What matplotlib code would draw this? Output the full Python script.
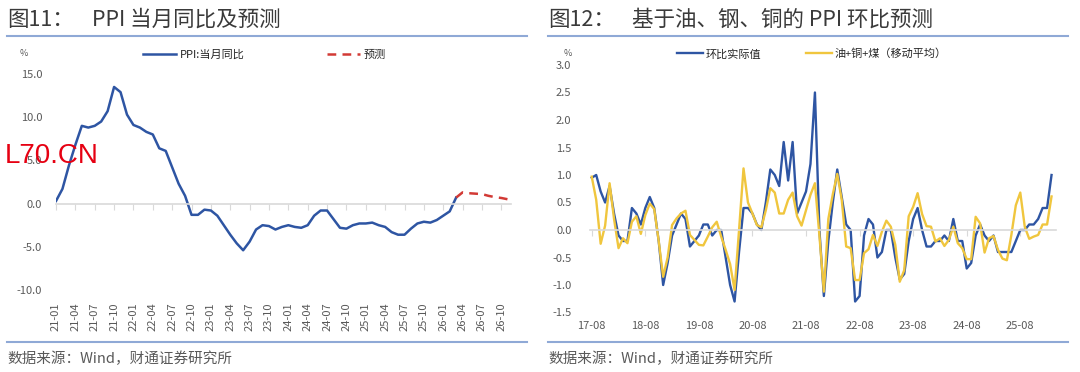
import matplotlib.pyplot as plt
import pandas as pd

plt.rcParams['font.family'] = ['Noto Sans CJK SC', 'DejaVu Sans']
plt.rcParams['axes.unicode_minus'] = False

# ---- left chart: PPI YoY (%), 21-01 .. 26-03 actual, 26-03 .. 26-11 forecast
left_months = pd.period_range('2021-01', '2026-11', freq='M').strftime('%y-%m').tolist()
ppi_yoy = [0.3, 1.7, 4.4, 6.8, 9.0, 8.8, 9.0, 9.5, 10.7, 13.5, 12.9, 10.3,
           9.1, 8.8, 8.3, 8.0, 6.4, 6.1, 4.2, 2.3, 0.9, -1.3, -1.3, -0.7,
           -0.8, -1.4, -2.5, -3.6, -4.6, -5.4, -4.4, -3.0, -2.5, -2.6, -3.0, -2.7,
           -2.5, -2.7, -2.8, -2.5, -1.4, -0.8, -0.8, -1.8, -2.8, -2.9, -2.5, -2.3,
           -2.3, -2.2, -2.5, -2.7, -3.3, -3.6, -3.6, -2.9, -2.3, -2.1, -2.2, -1.9,
           -1.4, -0.9, 0.7]
ppi_fcst = [0.7, 1.3, 1.2, 1.15, 1.1, 0.9, 0.75, 0.65, 0.5]
fcst_start = len(ppi_yoy) - 1

# ---- right chart: PPI MoM (%), 17-08 .. 26-03
right_months = pd.period_range('2017-08', '2026-03', freq='M').strftime('%y-%m').tolist()
ppi_mom = [0.95, 1.0, 0.7, 0.5, 0.8, 0.3, -0.1, -0.2, -0.2, 0.4,
           0.3, 0.1, 0.4, 0.6, 0.4, -0.2, -1.0, -0.6, -0.1, 0.1,
           0.3, 0.2, -0.3, -0.2, -0.1, 0.1, 0.1, -0.1, 0.0, 0.0,
           -0.5, -1.0, -1.3, -0.4, 0.4, 0.4, 0.3, 0.1, 0.0, 0.5,
           1.1, 1.0, 0.8, 1.6, 0.9, 1.6, 0.3, 0.5, 0.7, 1.2,
           2.5, 0.0, -1.2, -0.2, 0.5, 1.1, 0.6, 0.1, 0.0, -1.3,
           -1.2, -0.1, 0.2, 0.1, -0.5, -0.4, 0.0, 0.0, -0.5, -0.9,
           -0.8, -0.2, 0.2, 0.4, 0.0, -0.3, -0.3, -0.2, -0.2, -0.1,
           -0.2, 0.2, -0.2, -0.2, -0.7, -0.6, -0.1, 0.1, -0.1, -0.2,
           -0.1, -0.4, -0.4, -0.4, -0.4, -0.2, 0.0, 0.0, 0.1, 0.1,
           0.2, 0.4, 0.4, 1.0]
commod_ma = [0.97, 0.55, -0.25, 0.08, 0.85, 0.2, -0.33, -0.15, -0.24, 0.15,
             0.25, -0.07, 0.27, 0.48, 0.38, -0.2, -0.85, -0.5, 0.09, 0.21,
             0.3, 0.35, -0.09, -0.18, -0.27, -0.28, -0.12, 0.05, 0.15, -0.12,
             -0.36, -0.62, -1.09, 0.0, 1.12, 0.5, 0.3, 0.09, 0.05, 0.36,
             0.76, 0.68, 0.3, 0.3, 0.55, 0.68, 0.25, 0.08, 0.36, 0.64,
             0.85, -0.1, -1.12, 0.2, 0.65, 1.02, 0.55, -0.3, -0.33, -0.91,
             -0.91, -0.42, -0.35, -0.09, -0.29, -0.03, 0.17, 0.06, -0.27, -0.94,
             -0.73, 0.25, 0.42, 0.67, 0.29, 0.07, 0.06, -0.21, -0.15, -0.29,
             -0.18, 0.06, -0.24, -0.33, -0.53, -0.53, 0.24, 0.12, -0.41, -0.15,
             -0.11, -0.36, -0.52, -0.55, -0.09, 0.45, 0.68, 0.06, -0.16, -0.12,
             -0.09, 0.1, 0.1, 0.61]

BLUE = '#2E55A3'
RED = '#D23A35'
YELLOW = '#F0C63E'
GRID = '#D9D9D9'
TXT = '#595959'

W, H = 1080, 372
fig = plt.figure(figsize=(W / 100, H / 100), dpi=100)


def fx(px):
    return px / W


def fy(py):
    return 1 - py / H


def style_axes(ax, ticks, labels, rot, pad_y, pad_x):
    for s in ['top', 'right', 'left']:
        ax.spines[s].set_visible(False)
    ax.spines['bottom'].set_position(('data', 0))
    ax.spines['bottom'].set_color(GRID)
    ax.spines['bottom'].set_linewidth(1.2)
    ax.set_xticks(ticks)
    ax.tick_params(axis='x', length=4, color=GRID, labelbottom=False)
    ax.tick_params(axis='y', length=0, labelsize=8, labelcolor=TXT, pad=pad_y)
    sec = ax.secondary_xaxis('bottom')
    sec.set_xticks(ticks, [labels[t] for t in ticks], rotation=rot)
    sec.tick_params(length=0, labelsize=8, labelcolor=TXT, pad=pad_x)
    sec.spines['bottom'].set_visible(False)


# ---------------- left chart
ax1 = fig.add_axes([fx(56), fy(290), fx(511 - 56), (290 - 74) / H])
ax1.plot(range(len(ppi_yoy)), ppi_yoy, color=BLUE, lw=1.8, label='PPI:当月同比')
ax1.plot(range(fcst_start, fcst_start + len(ppi_fcst)), ppi_fcst, color=RED, lw=1.8,
         ls=(0, (3.5, 2.5)), label='预测')
ax1.set_xlim(0, 70.5)
ax1.set_ylim(-10, 15)
ax1.set_yticks([-10, -5, 0, 5, 10, 15])
ax1.yaxis.set_major_formatter('{x:.1f}')
style_axes(ax1, list(range(0, len(left_months), 3)), left_months, 90, 10, 9)
ax1.legend(ncol=2, loc='center left', bbox_to_anchor=(fx(143), fy(55)),
           bbox_transform=fig.transFigure, frameon=False, fontsize=8,
           handlelength=3.0, handletextpad=0.3, columnspacing=7.4,
           borderpad=0, borderaxespad=0, labelcolor='#262626')
fig.text(fx(20), fy(53), '%', fontsize=6.5, color=TXT, va='center')

# ---------------- right chart
ax2 = fig.add_axes([fx(589.5), fy(312.5), fx(1056 - 589.5), (312.5 - 65) / H])
ax2.plot(range(len(ppi_mom)), ppi_mom, color=BLUE, lw=1.7, label='环比实际值')
ax2.plot(range(len(commod_ma)), commod_ma, color=YELLOW, lw=1.7, label='油+铜+煤（移动平均）')
ax2.set_xlim(-0.5, 104)
ax2.set_ylim(-1.5, 3.0)
ax2.set_yticks([-1.5, -1.0, -0.5, 0.0, 0.5, 1.0, 1.5, 2.0, 2.5, 3.0])
ax2.yaxis.set_major_formatter('{x:.1f}')
style_axes(ax2, list(range(0, len(right_months), 12)), right_months, 0, 13, 6)
ax2.legend(ncol=2, loc='center left', bbox_to_anchor=(fx(677), fy(54)),
           bbox_transform=fig.transFigure, frameon=False, fontsize=8,
           handlelength=2.3, handletextpad=0.3, columnspacing=4.0,
           borderpad=0, borderaxespad=0, labelcolor='#262626')
fig.text(fx(564), fy(53), '%', fontsize=6.5, color=TXT, va='center')

# ---------------- titles, rules, sources
for x0, x1, num, title, tx in [(7, 527, '图11：', 'PPI 当月同比及预测', 92),
                               (548, 1068, '图12：', '基于油、钢、铜的 PPI 环比预测', 632)]:
    fig.text(fx(x0), fy(20), num, fontsize=15.5, color='#3a3a3a', va='center')
    fig.text(fx(tx), fy(20), title, fontsize=15.5, color='#3a3a3a', va='center')
    fig.add_artist(plt.Line2D([fx(x0), fx(x1)], [fy(36), fy(36)], color='#8FA9D6', lw=1.5))
    fig.add_artist(plt.Line2D([fx(x0), fx(x1)], [fy(342), fy(342)], color='#8FA9D6', lw=1.5))
    fig.text(fx(x0), fy(359), '数据来源：Wind，财通证券研究所', fontsize=10.5, color=TXT, va='center')

fig.text(fx(5), fy(156), 'L70.CN', fontsize=20, color='#E60012',
         family='Liberation Sans', va='center')

fig.savefig('out.png', dpi=100)
